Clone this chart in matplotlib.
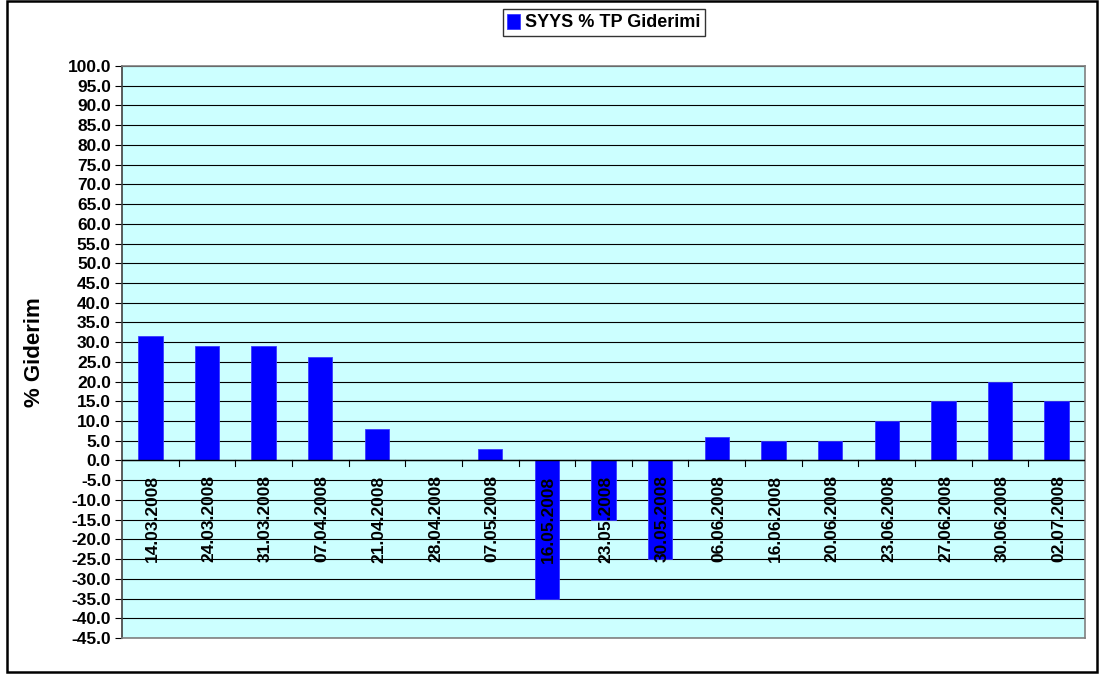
import matplotlib
matplotlib.use("Agg")
import matplotlib.pyplot as plt
from matplotlib.patches import Rectangle
from matplotlib.transforms import offset_copy
import numpy as np

plt.rcParams['font.family'] = ['Liberation Sans', 'DejaVu Sans']
plt.rcParams['font.weight'] = 'bold'

# Weekly sampling dates and % TP removal
dates = ['14.03.2008', '24.03.2008', '31.03.2008', '07.04.2008', '21.04.2008',
         '28.04.2008', '07.05.2008', '16.05.2008', '23.05.2008', '30.05.2008',
         '06.06.2008', '16.06.2008', '20.06.2008', '23.06.2008', '27.06.2008',
         '30.06.2008', '02.07.2008']
tp_removal = [31.6, 29.0, 29.0, 26.3, 8.0, 0.0, 2.8, -35.0, -15.0, -25.0,
              6.0, 5.0, 5.0, 10.0, 15.0, 20.0, 15.0]
series_name = 'SYYS % TP Giderimi'
y_ticks = np.arange(-45, 100.1, 5)

fig = plt.figure(figsize=(11.03, 6.75), dpi=100)
ax = fig.add_axes([122/1103, 1 - 638/675, (1085 - 122)/1103, (638 - 66)/675])
ax.set_facecolor('#CCFFFF')

x = np.arange(len(dates))
bars = ax.bar(x, tp_removal, width=0.43, color='#0000FF', edgecolor='#3a3aff',
              linewidth=0.6, label=series_name, zorder=2)

ax.set_xlim(-0.5, len(dates) - 0.5)
ax.set_ylim(-45, 100)
ax.set_yticks(y_ticks)
ax.set_yticklabels([f'{v:.1f}' for v in y_ticks], fontsize=12.5, fontweight='bold')
ax.yaxis.grid(True, color='black', linewidth=0.8, zorder=0)
ax.set_axisbelow(True)
ax.tick_params(axis='y', direction='out', length=5, width=0.8, pad=3)

# category boundary ticks hang from the zero line
ax.set_xticks([])
ax.axhline(0, color='black', linewidth=1.0, zorder=3)
for b in np.arange(0.5, len(dates) - 0.5, 1):
    ax.plot([b, b], [0, -1.3], color='black', linewidth=0.8, zorder=3, clip_on=False)

# rotated date labels just below the zero line
lab_tr = offset_copy(ax.transData, fig=fig, x=2, y=-15, units='dots')
for xi, d in zip(x, dates):
    ax.text(xi, 0, d, rotation=90, ha='center', va='top', fontsize=12.5,
            fontweight='bold', transform=lab_tr, zorder=4)

for side in ['top', 'right', 'bottom']:
    ax.spines[side].set_color('#808080')
    ax.spines[side].set_linewidth(1.2)
ax.spines['left'].set_color('#404040')
ax.spines['left'].set_linewidth(1.2)

ax.set_ylabel('% Giderim', fontsize=16, fontweight='bold')
ax.yaxis.set_label_coords((45 - 122)/963, 0.5)

leg = fig.legend(handles=[bars], labels=[series_name], loc='upper center',
                 bbox_to_anchor=(604/1103, 1 - 9/675), frameon=True, fancybox=False,
                 handlelength=0.7, handleheight=0.9, handletextpad=0.3,
                 borderpad=0.25, borderaxespad=0, prop={'size': 13, 'weight': 'bold'})
leg.get_frame().set_edgecolor('black')
leg.get_frame().set_linewidth(1.0)

# outer chart frame
fig.patches.append(Rectangle((7/1103, 3/675), 1090/1103, 671/675, transform=fig.transFigure,
                             fill=False, edgecolor='black', linewidth=1.8))

fig.savefig('out.png', dpi=100)
